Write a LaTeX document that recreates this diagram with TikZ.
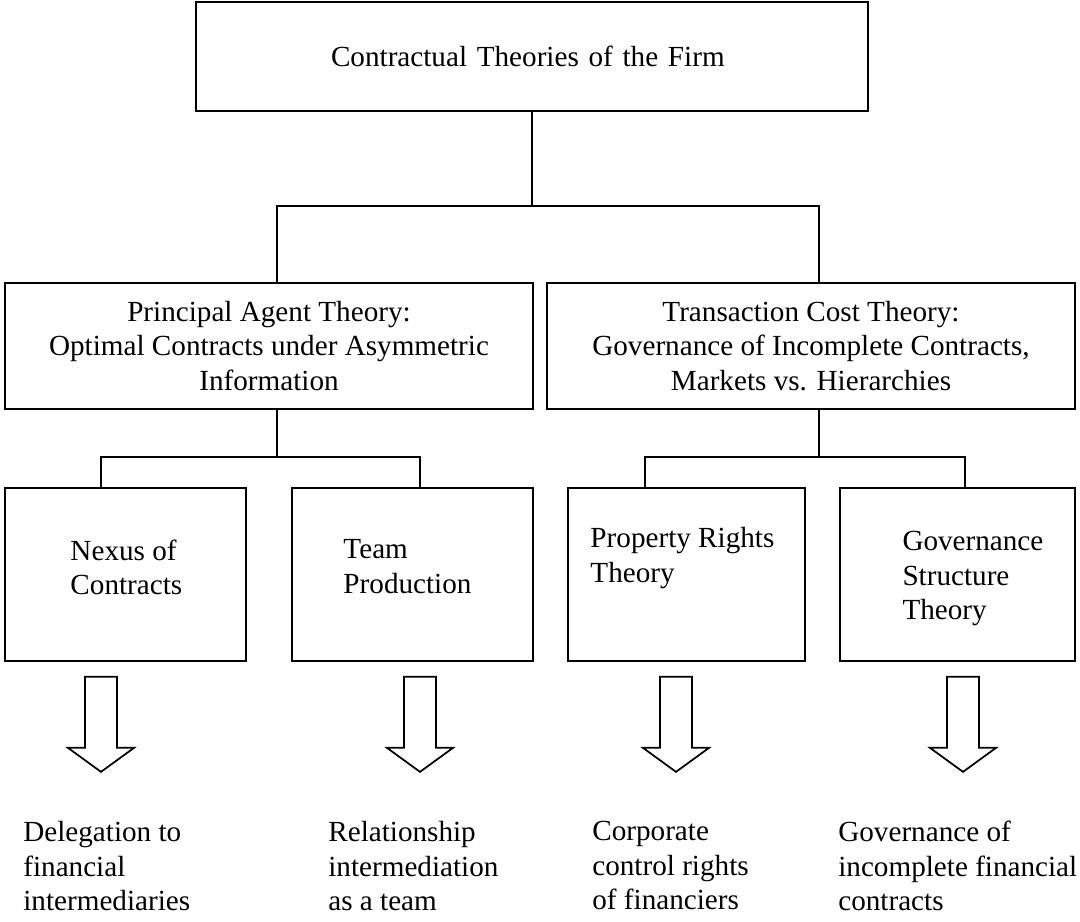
\documentclass[tikz,border=0pt]{standalone}
\usepackage{fontspec}
\setmainfont{Liberation Serif}
\usepackage{tikz}
\usetikzlibrary{calc}

\begin{document}
\begin{tikzpicture}[x=0.02cm,y=-0.02cm,
    font=\fontsize{16.6pt}{19.6pt}\selectfont,
    theory/.style={draw,line width=1pt,align=center,inner sep=0pt},
    leaf/.style={draw,line width=1pt,inner sep=0pt,minimum height=3.46cm},
    words/.style={anchor=north west,align=left,inner sep=0pt},
    link/.style={line width=1pt},
    hollow/.style={draw,line width=1pt,line join=miter,fill=white}]

    \useasboundingbox (0,0) rectangle (1080,922);

    % top of the tree
    \node[theory,minimum width=13.44cm,minimum height=2.18cm,
          align=left,text width=8.04cm,inner xsep=2.7cm] (top) at (532,56.5)
      {Contractual Theories of the Firm};

    \node[theory,minimum width=10.56cm,minimum height=2.52cm] (pa) at (269,346)
      {Principal Agent Theory:\\ Optimal Contracts under Asymmetric\\Information};
    \node[theory,minimum width=10.56cm,minimum height=2.52cm] (tc) at (811,346)
      {Transaction Cost Theory:\\ Governance of Incomplete Contracts,\\Markets vs. Hierarchies};

    % leaves
    \node[leaf,minimum width=4.82cm] (nexus) at (125.5,574.5) {};
    \node[leaf,minimum width=4.82cm] (team) at (412.5,574.5) {};
    \node[leaf,minimum width=4.74cm] (prop) at (686.5,574.5) {};
    \node[leaf,minimum width=4.70cm] (gov) at (957.5,574.5) {};

    \node[words] (nexustext) at ($(nexus.north west)+(66,52)$) {Nexus of\\Contracts};
    \node[words] (teamtext) at ($(team.north west)+(52,52)$) {Team\\Production};
    \node[words] (proptext) at ($(prop.north west)+(23,40)$) {Property Rights\\Theory};
    \node[words] (govtext) at ($(gov.north west)+(63,44)$) {Governance\\Structure\\Theory};

    % tree lines
    \draw[link] (top.south) -- ++(0,94) coordinate (split1);
    \draw[link] (split1) -| ([xshift=0.16cm]pa.north);
    \draw[link] (split1) -| ([xshift=0.16cm]tc.north);

    \draw[link] ([xshift=0.16cm]pa.south) -- ++(0,47) coordinate (split2);
    \draw[link] (split2) -| ([xshift=-0.49cm]nexus.north);
    \draw[link] (split2) -| ([xshift=0.15cm]team.north);

    \draw[link] ([xshift=0.16cm]tc.south) -- ++(0,47) coordinate (split3);
    \draw[link] (split3) -| ([xshift=-0.83cm]prop.north);
    \draw[link] (split3) -| ([xshift=0.15cm]gov.north);

    % block arrows under the leaves
    \foreach \leaf/\dx in {nexus/-24.5,team/7.5,prop/-10.5,gov/5.5}
      \draw[hollow] ($(\leaf.south)+(\dx,15)$) ++(-16,0) -- ++(0,71) -- ++(-17,0)
        -- ++(33,24) -- ++(33,-24) -- ++(-17,0) -- ++(0,-71) -- cycle;

    % what follows for finance
    \node[words] (deleg) at (23,821) {Delegation to\\financial\\intermediaries};
    \node[words] (relat) at (328,821) {Relationship\\intermediation\\as a team};
    \node[words] (corpc) at (592,821) {Corporate\\control rights\\of financiers};
    \node[words] (govfc) at (838,821) {Governance of\\incomplete financial\\contracts};
\end{tikzpicture}
\end{document}
